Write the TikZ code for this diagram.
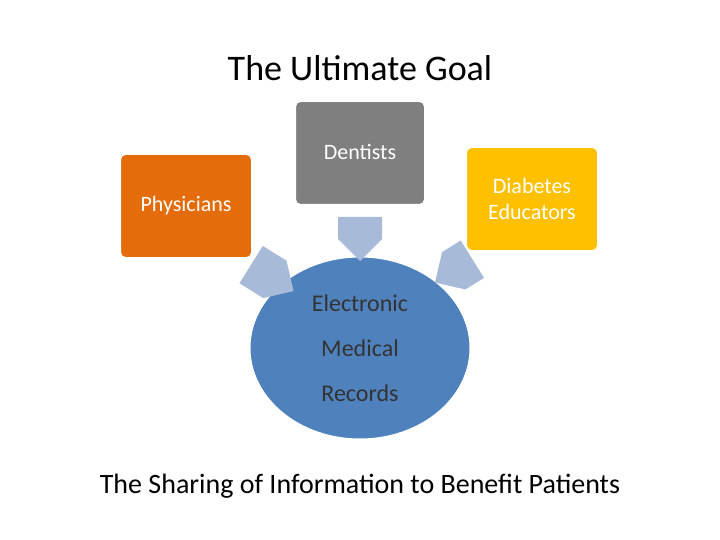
\documentclass[tikz,border=0pt]{standalone}
\usepackage{fontspec}
\setmainfont{Carlito}
\usetikzlibrary{shapes.arrows,shapes.geometric}
\begin{document}
\begin{tikzpicture}[x=1pt,y=-1pt,
  box/.style={rounded corners=5pt,minimum width=130pt,minimum height=103pt,text=white,font=\fontsize{22}{26}\selectfont,align=center,draw=white,line width=1pt},
  barrow/.style={single arrow,fill=arrowc,minimum width=44pt,single arrow head extend=0pt,single arrow tip angle=90,minimum height=44pt,inner sep=0pt}]
\definecolor{orangec}{HTML}{E46C0A}
\definecolor{grayc}{HTML}{7F7F7F}
\definecolor{yellowc}{HTML}{FFC000}
\definecolor{bluec}{HTML}{4F81BD}
\definecolor{arrowc}{HTML}{A7BAD8}
\useasboundingbox (0,0) rectangle (720,540);
\node (title) at (360,68) {\fontsize{36}{40}\selectfont The Ultimate Goal};
\node[box,fill=grayc,minimum width=129pt] (den) at (360,153) {};
\node[font=\fontsize{22}{26}\selectfont,text=white] (dent) at (360,152) {Dentists};
\node[box,fill=orangec,minimum width=131pt] (phy) at (186,206) {Physicians};
\node[box,fill=yellowc,minimum width=131pt] (dia) at (532,199) {Diabetes\\Educators};
\node[ellipse,fill=bluec,draw=white,line width=1pt,minimum width=220pt,minimum height=182pt] (emr) at (360,348) {};
\node[font=\fontsize{24}{45}\selectfont,align=center,text=black!80] (emrt) at (360,348) {Electronic\\Medical\\Records};
\node[barrow,rotate=-90] (a1) at (360,228) {};
\node[barrow,rotate=-32,minimum height=50pt] (a2) at (263,272) {};
\node[barrow,rotate=-148,minimum height=44pt] (a3) at (463,265) {};
\node (bottom) at (360,486) {\fontsize{28}{32}\selectfont The Sharing of Information to Benefit Patients};
\end{tikzpicture}
\end{document}
